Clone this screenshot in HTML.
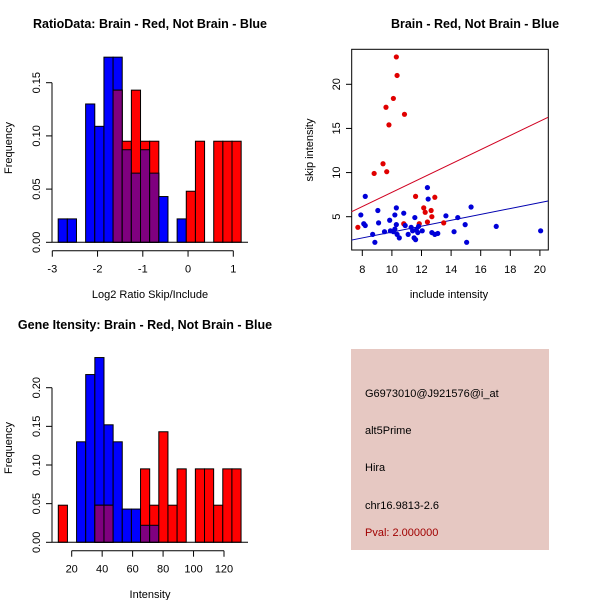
<!DOCTYPE html>
<html><head><meta charset="utf-8"><style>
body{margin:0;background:#fff}
svg{display:block;font-family:"Liberation Sans",sans-serif}
</style></head><body>
<svg id="s" width="600" height="600" xmlns="http://www.w3.org/2000/svg">
<rect width="600" height="600" fill="#fff"/>
<text x="150" y="28" text-anchor="middle" font-weight="bold" font-size="12.5">RatioData: Brain - Red, Not Brain - Blue</text>
<text x="475" y="28" text-anchor="middle" font-weight="bold" font-size="12.5">Brain - Red, Not Brain - Blue</text>
<text x="145" y="329" text-anchor="middle" font-weight="bold" font-size="12.5">Gene Itensity: Brain - Red, Not Brain - Blue</text>
<g id="h1"></g>
<g id="h2"></g>
<g id="sc"></g>
<rect x="351" y="349" width="198" height="201" fill="#e6c8c2"/>
<g font-size="11">
<text x="365" y="397">G6973010@J921576@i_at</text>
<text x="365" y="434">alt5Prime</text>
<text x="365" y="471">Hira</text>
<text x="365" y="509">chr16.9813-2.6</text>
<text x="365" y="536" fill="#a00000">Pval: 2.000000</text>
</g>
</svg>
<script>
// Ratio histogram data
const h1Start = -2.87, h1Width = 0.2022;
const h1Blue = [0.022,0.022,0,0.13,0.109,0.174,0.174,0.087,0.065,0.087,0.065,0.043,0,0.022,0,0,0,0,0,0];
const h1Red  = [0,0,0,0,0,0,0.143,0.095,0.143,0.095,0.095,0,0,0,0.048,0.095,0,0.095,0.095,0.095];
const h1XTicks = [-3,-2,-1,0,1];
const h1YTicks = [0,0.05,0.10,0.15];
const h1YLabels = ["0.00","0.05","0.10","0.15"];
// Intensity histogram data
const h2Start = 11.2, h2Width = 6;
const h2Blue = [0,0,0.13,0.217,0.239,0.152,0.13,0.043,0.043,0.022,0.022,0,0,0,0,0,0,0,0,0];
const h2Red  = [0.048,0,0,0,0.048,0.048,0,0,0,0.095,0.048,0.143,0.048,0.095,0,0.095,0.095,0.048,0.095,0.095];
const h2XTicks = [20,40,60,80,100,120];
const h2YTicks = [0,0.05,0.10,0.15,0.20];
const h2YLabels = ["0.00","0.05","0.10","0.15","0.20"];
// Scatter data
const redX = [10.3,10.35,10.1,9.6,10.85,9.8,9.4,8.8,9.65,11.6,12.9,12.15,12.25,12.65,12.7,12.4,13.5,11.85,10.8,7.7];
const redY = [23.1,21.0,18.4,17.4,16.6,15.4,11.0,9.9,10.1,7.3,7.2,6.0,5.5,5.7,5.0,4.4,4.3,4.2,4.2,3.8];
const blueX = [8.2,7.9,8.1,8.2,8.7,8.85,9.05,9.1,9.5,9.85,9.9,10.1,10.2,10.3,10.3,10.2,10.35,10.5,10.8,10.9,11.1,11.3,11.4,11.5,11.55,11.6,11.65,11.75,11.8,12.05,12.4,12.45,12.7,12.9,13.1,13.65,14.2,14.45,14.95,15.05,15.35,17.05,20.05];
const blueY = [7.3,5.2,4.2,4.0,3.0,2.1,5.7,4.3,3.3,4.6,3.4,3.3,5.2,6.0,4.1,3.6,3.0,2.6,5.4,4.0,3.0,3.8,3.4,2.6,4.9,2.4,3.5,3.2,3.9,3.4,8.3,7.0,3.2,3.0,3.1,5.1,3.3,4.9,4.1,2.1,6.1,3.9,3.4];
const redFit = [-0.30, 0.806];
const blueFit = [-0.07, 0.333];
const scXTicks = [8,10,12,14,16,18,20];
const scYTicks = [5,10,15,20];

const NS="http://www.w3.org/2000/svg";
function mk(parent,tag,attrs){const e=document.createElementNS(NS,tag);for(const k in attrs)e.setAttribute(k,attrs[k]);parent.appendChild(e);return e;}

function hist(g,start,width,blue,red,sx,sy,xT,yT,yL,axisY,xlab,xlabY,y0px){
  const g0=document.getElementById(g);
  for(let i=0;i<blue.length;i++){
    const x0=sx(start+i*width),x1=sx(start+(i+1)*width);
    const b=blue[i],r=red[i];
    if(b>0){const e=mk(g0,'rect',{x:x0,y:sy(b),width:x1-x0,height:sy(0)-sy(b),fill:'#0000ff',stroke:'#000','stroke-width':1});
      
      }
    if(r>0){const e=mk(g0,'rect',{x:x0,y:sy(r),width:x1-x0,height:sy(0)-sy(r),fill:'#ff0000',stroke:'#000','stroke-width':1});
      
      }
    const m=Math.min(b,r);
    if(m>0){const e=mk(g0,'rect',{x:x0,y:sy(m),width:x1-x0,height:sy(0)-sy(m),fill:'#7f007f',stroke:'#000','stroke-width':1});
      
      }
  }
  const bl=mk(g0,'line',{x1:52,x2:248,y1:sy(0),y2:sy(0),stroke:'#000'});
  
  
  const xa=mk(g0,'line',{x1:sx(xT[0]),x2:sx(xT[xT.length-1]),y1:axisY,y2:axisY,stroke:'#000'});
  
  
  xT.forEach(t=>{mk(g0,'line',{x1:sx(t),x2:sx(t),y1:axisY,y2:axisY+6,stroke:'#000'});
    const tx=mk(g0,'text',{x:sx(t),y:axisY+22,'text-anchor':'middle','font-size':11});tx.textContent=t;
    
    });
  const ya=mk(g0,'line',{x1:52,x2:52,y1:sy(yT[0]),y2:sy(yT[yT.length-1]),stroke:'#000'});
  
  
  yT.forEach((t,i)=>{mk(g0,'line',{x1:46,x2:52,y1:sy(t),y2:sy(t),stroke:'#000'});
    const tx=mk(g0,'text',{x:0,y:0,'text-anchor':'middle','font-size':11,transform:`translate(40,${sy(t)}) rotate(-90)`});tx.textContent=yL[i];
    
    });
  const xl=mk(g0,'text',{x:150,y:xlabY,'text-anchor':'middle','font-size':11});xl.textContent=xlab;
  
  
  const yl=mk(g0,'text',{x:0,y:0,'text-anchor':'middle','font-size':11,transform:`translate(12,${y0px}) rotate(-90)`});yl.textContent='Frequency';
  
  
}
hist('h1',h1Start,h1Width,h1Blue,h1Red,v=>52.3+(v+3)*45.25,v=>242.3-v*1064,h1XTicks,h1YTicks,h1YLabels,250.7,'Log2 Ratio Skip/Include',298,148);
hist('h2',h2Start,h2Width,h2Blue,h2Red,v=>71.7+(v-20)*1.523,v=>542.3-v*773,h2XTicks,h2YTicks,h2YLabels,550.7,'Intensity',598,448);

// scatter
(function(){
  const g=document.getElementById('sc');
  const sx=v=>362.3+(v-8)*14.8, sy=v=>216.7-(v-5)*8.827;
  const x0=7.28,x1=20.55;
  mk(g,'rect',{x:351.7,y:49.3,width:196.6,height:200.7,fill:'none',stroke:'#000'});
  const rl=mk(g,'line',{x1:sx(x0),x2:sx(x1),y1:sy(redFit[0]+redFit[1]*x0),y2:sy(redFit[0]+redFit[1]*x1),stroke:'#d00020','stroke-width':1});
  
  
  const bln=mk(g,'line',{x1:sx(x0),x2:sx(x1),y1:sy(blueFit[0]+blueFit[1]*x0),y2:sy(blueFit[0]+blueFit[1]*x1),stroke:'#0000b0','stroke-width':1});
  
  
  redX.forEach((x,i)=>{const c=mk(g,'circle',{cx:sx(x),cy:sy(redY[i]),r:2.6,fill:'#e00000'});
    
    });
  blueX.forEach((x,i)=>{const c=mk(g,'circle',{cx:sx(x),cy:sy(blueY[i]),r:2.6,fill:'#0000d8'});
    
    });
  scXTicks.forEach(t=>{mk(g,'line',{x1:sx(t),x2:sx(t),y1:250,y2:256,stroke:'#000'});
    const tx=mk(g,'text',{x:sx(t),y:273,'text-anchor':'middle','font-size':11});tx.textContent=t;
    
    });
  scYTicks.forEach(t=>{mk(g,'line',{x1:346,x2:351.7,y1:sy(t),y2:sy(t),stroke:'#000'});
    const tx=mk(g,'text',{x:0,y:0,'text-anchor':'middle','font-size':11,transform:`translate(340,${sy(t)}) rotate(-90)`});tx.textContent=t;
    
    });
  const xl=mk(g,'text',{x:449,y:298,'text-anchor':'middle','font-size':11});xl.textContent='include intensity';
  
  
  const yl=mk(g,'text',{x:0,y:0,'text-anchor':'middle','font-size':11,transform:'translate(313,150) rotate(-90)'});yl.textContent='skip intensity';
  
  
})();
</script>
</body></html>
